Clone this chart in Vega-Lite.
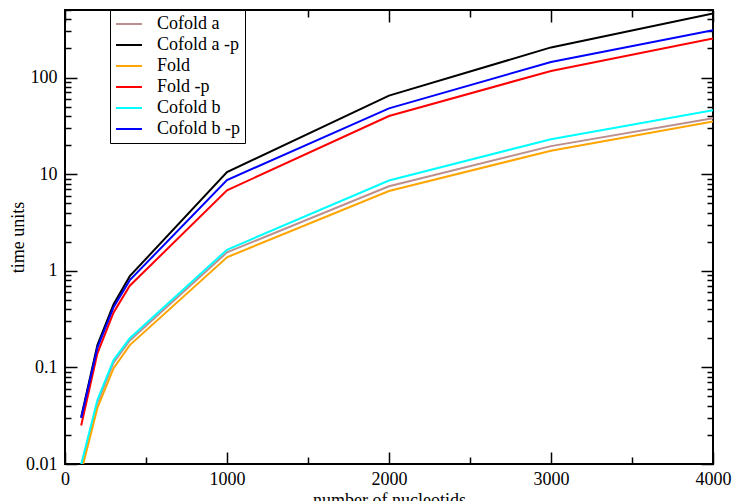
{
  "$schema": "https://vega.github.io/schema/vega-lite/v6.json",
  "width": 648,
  "height": 454,
  "autosize": {"type": "none"},
  "padding": {"left": 65, "top": 10, "right": 19, "bottom": 37},
  "background": "white",
  "config": {
    "font": "Times New Roman, Liberation Serif, serif",
    "view": {"stroke": "black", "strokeWidth": 2},
    "axis": {"domain": false, "grid": false, "tickColor": "black", "tickWidth": 1.5, "labelColor": "black", "titleColor": "black", "labelFontSize": 18, "titleFontSize": 18, "titleFontWeight": "normal", "labelFont": "Times New Roman, Liberation Serif, serif", "titleFont": "Times New Roman, Liberation Serif, serif"},
    "legend": {"labelFont": "Times New Roman, Liberation Serif, serif"}
  },
  "data": {"values": [
    {"n": 100, "t": 0.0095, "s": "Cofold a"},
    {"n": 200, "t": 0.043, "s": "Cofold a"},
    {"n": 300, "t": 0.112, "s": "Cofold a"},
    {"n": 400, "t": 0.19, "s": "Cofold a"},
    {"n": 1000, "t": 1.55, "s": "Cofold a"},
    {"n": 2000, "t": 7.5, "s": "Cofold a"},
    {"n": 3000, "t": 19.5, "s": "Cofold a"},
    {"n": 4000, "t": 38, "s": "Cofold a"},
    {"n": 100, "t": 0.0306, "s": "Cofold a -p"},
    {"n": 200, "t": 0.17, "s": "Cofold a -p"},
    {"n": 300, "t": 0.45, "s": "Cofold a -p"},
    {"n": 400, "t": 0.88, "s": "Cofold a -p"},
    {"n": 1000, "t": 10.5, "s": "Cofold a -p"},
    {"n": 2000, "t": 65, "s": "Cofold a -p"},
    {"n": 3000, "t": 205, "s": "Cofold a -p"},
    {"n": 4000, "t": 460, "s": "Cofold a -p"},
    {"n": 100, "t": 0.0083, "s": "Fold"},
    {"n": 200, "t": 0.038, "s": "Fold"},
    {"n": 300, "t": 0.098, "s": "Fold"},
    {"n": 400, "t": 0.17, "s": "Fold"},
    {"n": 1000, "t": 1.38, "s": "Fold"},
    {"n": 2000, "t": 6.7, "s": "Fold"},
    {"n": 3000, "t": 17.5, "s": "Fold"},
    {"n": 4000, "t": 35, "s": "Fold"},
    {"n": 100, "t": 0.025, "s": "Fold -p"},
    {"n": 200, "t": 0.14, "s": "Fold -p"},
    {"n": 300, "t": 0.37, "s": "Fold -p"},
    {"n": 400, "t": 0.7, "s": "Fold -p"},
    {"n": 1000, "t": 6.8, "s": "Fold -p"},
    {"n": 2000, "t": 40, "s": "Fold -p"},
    {"n": 3000, "t": 117, "s": "Fold -p"},
    {"n": 4000, "t": 254, "s": "Fold -p"},
    {"n": 100, "t": 0.0099, "s": "Cofold b"},
    {"n": 200, "t": 0.046, "s": "Cofold b"},
    {"n": 300, "t": 0.119, "s": "Cofold b"},
    {"n": 400, "t": 0.2, "s": "Cofold b"},
    {"n": 1000, "t": 1.65, "s": "Cofold b"},
    {"n": 2000, "t": 8.6, "s": "Cofold b"},
    {"n": 3000, "t": 23, "s": "Cofold b"},
    {"n": 4000, "t": 46, "s": "Cofold b"},
    {"n": 100, "t": 0.030, "s": "Cofold b -p"},
    {"n": 200, "t": 0.16, "s": "Cofold b -p"},
    {"n": 300, "t": 0.42, "s": "Cofold b -p"},
    {"n": 400, "t": 0.8, "s": "Cofold b -p"},
    {"n": 1000, "t": 8.7, "s": "Cofold b -p"},
    {"n": 2000, "t": 48, "s": "Cofold b -p"},
    {"n": 3000, "t": 145, "s": "Cofold b -p"},
    {"n": 4000, "t": 308, "s": "Cofold b -p"}
  ]},
  "resolve": {"axis": {"x": "independent", "y": "independent"}},
  "layer": [
    {
      "mark": {"type": "line", "clip": true, "strokeWidth": 2},
      "encoding": {
        "x": {"field": "n", "type": "quantitative",
          "scale": {"domain": [0, 4000], "nice": false},
          "axis": {"orient": "bottom", "title": "number of nucleotids", "titlePadding": 3, "titleFontSize": 18,
            "values": [0, 500, 1000, 1500, 2000, 2500, 3000, 3500, 4000],
            "labelExpr": "datum.value % 1000 == 0 ? format(datum.value, 'd') : ''",
            "tickSize": {"condition": {"test": "datum.value % 1000 == 0", "value": -12}, "value": -7},
            "labelPadding": 18, "labelFlush": false}},
        "y": {"field": "t", "type": "quantitative",
          "scale": {"type": "log", "domain": [0.01, 500], "nice": false},
          "axis": {"orient": "left", "title": "time units", "titleX": -38, "titleFontSize": 18,
            "values": [0.01,0.02,0.03,0.04,0.05,0.06,0.07,0.08,0.09,0.1,0.2,0.3,0.4,0.5,0.6,0.7,0.8,0.9,1,2,3,4,5,6,7,8,9,10,20,30,40,50,60,70,80,90,100,200,300,400,500],
            "labelExpr": "abs(log(datum.value)/LN10 - round(log(datum.value)/LN10)) < 0.001 ? format(datum.value, '~g') : ''",
            "tickSize": {"condition": {"test": "abs(log(datum.value)/LN10 - round(log(datum.value)/LN10)) < 0.001", "value": -12}, "value": -6},
            "labelPadding": 20, "labelFlush": false}},
        "color": {"field": "s", "type": "nominal",
          "scale": {"domain": ["Cofold a", "Cofold a -p", "Fold", "Fold -p", "Cofold b", "Cofold b -p"],
            "range": ["#bc8f8f", "#000000", "#ffa500", "#ff0000", "#00ffff", "#0000ff"]},
          "legend": {"title": null, "orient": "none", "legendX": 45, "legendY": 0,
            "symbolType": "M-2,0L2,0", "symbolSize": 169, "symbolStrokeWidth": 2, "symbolOffset": 5,
            "labelFontSize": 18, "labelColor": "black", "labelOffset": 19,
            "rowPadding": 3, "padding": 5, "strokeColor": "black", "fillColor": "white",
            "labelLimit": 200}}
      }
    },
    {
      "mark": {"type": "line", "clip": true, "strokeOpacity": 0},
      "encoding": {
        "detail": {"field": "s"},
        "x": {"field": "n", "type": "quantitative",
          "axis": {"orient": "top", "title": null, "labels": false,
            "values": [0, 500, 1000, 1500, 2000, 2500, 3000, 3500, 4000],
            "tickSize": {"condition": {"test": "datum.value % 1000 == 0", "value": -12}, "value": -7}}},
        "y": {"field": "t", "type": "quantitative",
          "axis": {"orient": "right", "title": null, "labels": false,
            "values": [0.01,0.02,0.03,0.04,0.05,0.06,0.07,0.08,0.09,0.1,0.2,0.3,0.4,0.5,0.6,0.7,0.8,0.9,1,2,3,4,5,6,7,8,9,10,20,30,40,50,60,70,80,90,100,200,300,400,500],
            "tickSize": {"condition": {"test": "abs(log(datum.value)/LN10 - round(log(datum.value)/LN10)) < 0.001", "value": -12}, "value": -6}}}
      }
    }
  ]
}
